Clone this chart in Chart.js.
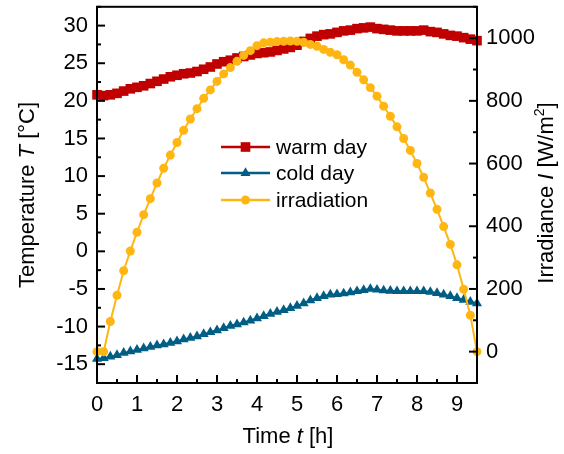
<!DOCTYPE html>
<html>
<head>
<meta charset="utf-8">
<script src="https://cdn.jsdelivr.net/npm/chart.js@4.4.0/dist/chart.umd.min.js"></script>
<style>
  html, body { margin: 0; padding: 0; background: #fff; }
</style>
</head>
<body>
<canvas id="myChart" width="564" height="454"></canvas>
<script>
// readings every 10 minutes
const minutes = [0,10,20,30,40,50,60,70,80,90,100,110,120,130,140,150,160,170,180,190,
  200,210,220,230,240,250,260,270,280,290,300,310,320,330,340,350,360,370,380,390,
  400,410,420,430,440,450,460,470,480,490,500,510,520,530,540,550,560,570];

const warmDay = [20.8,20.7,20.8,21.0,21.3,21.6,21.8,22.0,22.3,22.6,
  22.9,23.2,23.4,23.6,23.7,23.9,24.2,24.5,24.9,25.2,
  25.4,25.7,25.9,26.1,26.3,26.4,26.5,26.7,26.9,27.1,
  27.4,27.9,28.3,28.6,28.8,28.9,29.1,29.3,29.4,29.6,
  29.7,29.8,29.6,29.5,29.4,29.3,29.3,29.3,29.3,29.4,
  29.2,29.1,28.9,28.7,28.6,28.4,28.2,28.0];

const coldDay = [-14.3,-14.2,-14.0,-13.8,-13.5,-13.3,-13.1,-12.9,-12.7,-12.5,
  -12.35,-12.15,-11.95,-11.7,-11.5,-11.3,-11.0,-10.75,-10.5,-10.2,
  -9.9,-9.7,-9.45,-9.2,-8.9,-8.6,-8.3,-8.05,-7.8,-7.55,
  -7.25,-6.9,-6.5,-6.2,-5.95,-5.75,-5.7,-5.6,-5.45,-5.3,
  -5.15,-5.0,-5.1,-5.2,-5.25,-5.3,-5.3,-5.3,-5.3,-5.3,
  -5.4,-5.55,-5.75,-5.95,-6.2,-6.45,-6.7,-6.9];

const irradiation = [0,0,96,180,258,321,381,437,488,538,
  585,627,667,706,742,775,808,835,862,886,
  906,926,945,960,976,985,987,989,990,991,
  990,987,980,974,964,955,947,931,914,891,
  867,842,815,783,751,717,680,642,600,556,
  506,454,399,342,277,199,116,0];

const timeTicks = [0,1,2,3,4,5,6,7,8,9];
const tempTicks = [-15,-10,-5,0,5,10,15,20,25,30];
const irrTicks = [0,200,400,600,800,1000];

const FONT = "'Liberation Sans', Arial, sans-serif";

function series(label, values, color, style, radius, axis, order) {
  return {
    label: label,
    data: minutes.map((m, i) => ({ x: m / 60, y: values[i] })),
    yAxisID: axis,
    borderColor: color,
    backgroundColor: color,
    borderWidth: 2,
    pointStyle: style,
    pointRadius: radius,
    pointBorderWidth: 0,
    pointHoverRadius: radius,
    tension: 0,
    clip: false,
    order: order
  };
}

// tick marks pointing inward + frame
const inwardTicks = {
  id: 'inwardTicks',
  afterDatasetsDraw(chart) {
    const { ctx, chartArea: a, scales } = chart;
    ctx.save();
    ctx.strokeStyle = '#000';
    ctx.lineWidth = 2;
    const mids = (vals, min, max) => {
      const step = vals[1] - vals[0];
      const out = [];
      for (let v = vals[0] - step / 2; v <= max + 1e-9; v += step) if (v >= min - 1e-9) out.push(v);
      return out;
    };
    const draw = (scale, side) => {
      const majors = scale.ticks.map(t => t.value);
      const minors = mids(majors, scale.min, scale.max);
      [[majors, 8], [minors, 4]].forEach(([vals, len]) => vals.forEach(v => {
        const p = scale.getPixelForValue(v);
        ctx.beginPath();
        if (side === 'bottom') { ctx.moveTo(p, a.bottom); ctx.lineTo(p, a.bottom - len); }
        if (side === 'left') { ctx.moveTo(a.left, p); ctx.lineTo(a.left + len, p); }
        if (side === 'right') { ctx.moveTo(a.right, p); ctx.lineTo(a.right - len, p); }
        ctx.stroke();
      }));
    };
    draw(scales.x, 'bottom');
    draw(scales.yT, 'left');
    draw(scales.yI, 'right');
    ctx.strokeRect(a.left, a.top, a.width, a.height);
    ctx.restore();
  }
};

// axis titles with italic symbols
function drawRuns(ctx, runs, size) {
  const fontOf = r => (r.italic ? 'italic ' : '') + (r.sup ? Math.round(size * 0.62) : size) + 'px ' + FONT;
  let w = 0;
  runs.forEach(r => { ctx.font = fontOf(r); w += ctx.measureText(r.text).width; });
  let x = -w / 2;
  runs.forEach(r => {
    ctx.font = fontOf(r);
    ctx.fillText(r.text, x, r.sup ? -size * 0.3 : 0);
    x += ctx.measureText(r.text).width;
  });
}

const axisTitles = {
  id: 'axisTitles',
  afterDraw(chart) {
    const ctx = chart.ctx;
    ctx.save();
    ctx.fillStyle = '#000';
    ctx.textBaseline = 'middle';
    ctx.textAlign = 'left';

    ctx.save();
    ctx.translate(28, 195);
    ctx.rotate(-Math.PI / 2);
    drawRuns(ctx, [{ text: 'Temperature ' }, { text: 'T', italic: true }, { text: ' [°C]' }], 22);
    ctx.restore();

    ctx.save();
    ctx.translate(547, 193);
    ctx.rotate(-Math.PI / 2);
    drawRuns(ctx, [{ text: 'Irradiance ' }, { text: 'I', italic: true }, { text: ' [W/m' }, { text: '2', sup: true }, { text: ']' }], 22);
    ctx.restore();

    ctx.save();
    ctx.translate(288, 437);
    drawRuns(ctx, [{ text: 'Time ' }, { text: 't', italic: true }, { text: ' [h]' }], 22);
    ctx.restore();

    ctx.restore();
  }
};

// legend inside the plot
const insideLegend = {
  id: 'insideLegend',
  afterDraw(chart) {
    const ctx = chart.ctx;
    const rows = [147, 173, 200];
    chart.data.datasets.forEach((ds, i) => {
      const y = rows[i];
      ctx.save();
      ctx.strokeStyle = ds.borderColor;
      ctx.fillStyle = ds.backgroundColor;
      ctx.lineWidth = 2.5;
      ctx.beginPath();
      ctx.moveTo(221, y);
      ctx.lineTo(270, y);
      ctx.stroke();
      Chart.helpers.drawPoint(ctx, { pointStyle: ds.pointStyle, radius: ds.pointRadius, borderWidth: 0, rotation: 0 }, 245.5, y);
      ctx.fillStyle = '#000';
      ctx.font = '21px ' + FONT;
      ctx.textBaseline = 'middle';
      ctx.fillText(ds.label, 276, y + 1);
      ctx.restore();
    });
  }
};

const tickFont = { family: FONT, size: 22 };
const plainLabel = v => String(v);
const noPad = s => { s.paddingTop = 0; s.paddingBottom = 0; s.paddingLeft = 0; s.paddingRight = 0; };

new Chart(document.getElementById('myChart'), {
  type: 'line',
  data: {
    datasets: [
      series('warm day', warmDay, '#C00000', 'rect', 6.8, 'yT', 2),
      series('cold day', coldDay, '#005E85', 'triangle', 5.8, 'yT', 1),
      series('irradiation', irradiation, '#FFB612', 'circle', 4.5, 'yI', 0)
    ]
  },
  options: {
    responsive: false,
    animation: false,
    devicePixelRatio: 1,
    layout: { padding: { top: 4, left: 0, right: 0, bottom: 0 } },
    plugins: { legend: { display: false }, tooltip: { enabled: false } },
    scales: {
      x: {
        type: 'linear', position: 'bottom', min: 0, max: 9.5,
        afterBuildTicks: s => { s.ticks = timeTicks.map(v => ({ value: v })); },
        afterFit: s => { s.height = 71; noPad(s); },
        ticks: { font: tickFont, color: '#000', padding: 9, maxRotation: 0, callback: plainLabel },
        grid: { display: false, drawTicks: false },
        border: { display: false }
      },
      yT: {
        type: 'linear', position: 'left', min: -17.5, max: 32.5,
        afterBuildTicks: s => { s.ticks = tempTicks.map(v => ({ value: v })); },
        afterFit: s => { s.width = 97; noPad(s); },
        ticks: { font: tickFont, color: '#000', padding: 9, callback: plainLabel },
        grid: { display: false, drawTicks: false },
        border: { display: false }
      },
      yI: {
        type: 'linear', position: 'right', min: -100, max: 1100,
        afterBuildTicks: s => { s.ticks = irrTicks.map(v => ({ value: v })); },
        afterFit: s => { s.width = 87; noPad(s); },
        ticks: { font: tickFont, color: '#000', padding: 9, callback: plainLabel },
        grid: { display: false, drawTicks: false },
        border: { display: false }
      }
    }
  },
  plugins: [inwardTicks, axisTitles, insideLegend]
});
</script>
</body>
</html>
